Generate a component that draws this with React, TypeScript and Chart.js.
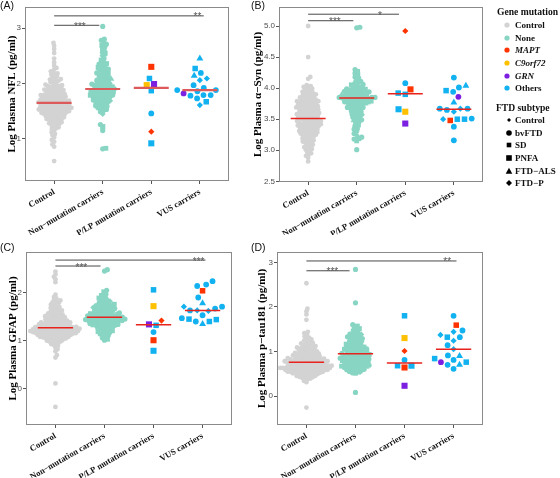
import React, { useEffect, useRef } from 'react';
import { Chart, registerables } from 'chart.js';

Chart.register(...registerables);

// ---------------- data ----------------
const categories = ['Control', 'Non\u2212mutation carriers', 'P/LP mutation carriers', 'VUS carriers'];

// subtype codes: b = bvFTD, s = SD, p = PNFA, a = FTD-ALS, f = FTD-P ; gene codes: o Others, m MAPT, c C9orf72, g GRN
const noneSubtypes =
  'bsbpbfbbbs' + 'bpbbabsbpb' + 'fbsbbbpbsb' + 'bbpbsfbbab' + 'sbpbbsbfbp' +
  'bbsbbpbbbs' + 'fbpsbbabsb' + 'bsbpbbbfbs' + 'pbbbsbpbfb' + 'basbpbsbbb';

const plpGenes = 'mmcgoooo';
const plpSubtypes = 'pfppbssp';

// (A) NFL
const nflControl = [
  0.60, 0.86, 0.90, 0.95, 0.98, 1.03, 1.07, 1.09, 1.12, 1.15, 1.18, 1.19,
  1.21, 1.23, 1.25, 1.26, 1.27, 1.28, 1.29,
  1.30, 1.31, 1.32, 1.33, 1.34, 1.35, 1.36, 1.36, 1.37, 1.38, 1.39, 1.39,
  1.40, 1.41, 1.41, 1.42, 1.43, 1.43, 1.44, 1.45, 1.45, 1.46, 1.46, 1.47, 1.47, 1.48, 1.48, 1.49, 1.49,
  1.50, 1.50, 1.51, 1.51, 1.52, 1.52, 1.53, 1.53, 1.54, 1.54, 1.55, 1.55, 1.55, 1.56, 1.56, 1.57, 1.57, 1.58, 1.58, 1.59, 1.59, 1.59,
  1.60, 1.60, 1.61, 1.61, 1.62, 1.62, 1.63, 1.63, 1.64, 1.64, 1.65, 1.65, 1.65, 1.66, 1.66, 1.67, 1.67, 1.68, 1.68, 1.69, 1.69, 1.69,
  1.70, 1.71, 1.71, 1.72, 1.72, 1.73, 1.74, 1.74, 1.75, 1.75, 1.76, 1.76, 1.77, 1.78, 1.78, 1.79, 1.79, 1.79,
  1.80, 1.81, 1.81, 1.82, 1.83, 1.84, 1.85, 1.85, 1.86, 1.87, 1.88, 1.88, 1.89, 1.89,
  1.90, 1.91, 1.92, 1.93, 1.94, 1.95, 1.95, 1.96, 1.97, 1.98, 1.99,
  2.01, 2.02, 2.04, 2.05, 2.06, 2.07, 2.08, 2.09,
  2.11, 2.13, 2.15, 2.16, 2.18, 2.20, 2.22, 2.25, 2.28, 2.32, 2.38, 2.45, 2.55, 2.62, 2.68, 2.73,
];
const nflNone = [
  0.82, 0.83, 1.15, 1.22, 1.26, 1.45, 1.49,
  1.51, 1.53, 1.55, 1.56, 1.58, 1.59,
  1.60, 1.62, 1.63, 1.65, 1.66, 1.67, 1.68, 1.69,
  1.70, 1.71, 1.72, 1.73, 1.74, 1.75, 1.76, 1.76, 1.77, 1.78, 1.79, 1.79,
  1.80, 1.81, 1.81, 1.82, 1.83, 1.84, 1.85, 1.85, 1.86, 1.87, 1.88, 1.88, 1.89, 1.89,
  1.90, 1.91, 1.92, 1.93, 1.94, 1.94, 1.95, 1.96, 1.97, 1.98, 1.99, 1.99,
  2.00, 2.01, 2.03, 2.04, 2.05, 2.06, 2.07, 2.08, 2.09,
  2.11, 2.12, 2.14, 2.15, 2.17, 2.18, 2.19,
  2.21, 2.23, 2.24, 2.26, 2.27, 2.29,
  2.31, 2.33, 2.35, 2.36, 2.38, 2.42, 2.45, 2.50, 2.53, 2.56, 2.59,
  2.62, 2.66, 2.69, 2.71, 2.74, 2.78, 2.80, 3.03,
];
const nflPlp = [2.30, 1.13, 1.97, 1.99, 1.46, 2.09, 1.87, 0.92];
const nflVus = [2.45, 2.27, 2.19, 2.09, 2.06, 2.14, 1.97, 1.92, 1.86, 1.78, 1.88, 1.79, 1.88, 1.79, 1.73, 1.67, 1.61, 1.82];
const nflVusSubtypes = 'asbffabbbbbbbbbsfb';
const nflVusGenes = 'ooooooooooooooooog';
const nflMedians = [1.65, 1.9, 1.92, 1.88];
const nflYTicks = [1, 2, 3];
const nflSig = [
  { from: 0, to: 0.93, y: 3.05, label: '***', at: 0.53 },
  { from: 0, to: 3.08, y: 3.22, label: '**', at: 2.95 },
];

// (B) alpha-Syn
const synControl = [
  2.82, 2.88, 2.91, 2.93, 2.95, 2.97, 2.99,
  3.01, 3.02, 3.04, 3.05, 3.07, 3.08, 3.09,
  3.11, 3.12, 3.13, 3.14, 3.15, 3.16, 3.17, 3.18, 3.19,
  3.21, 3.22, 3.22, 3.23, 3.24, 3.25, 3.26, 3.26, 3.27, 3.28, 3.29, 3.29,
  3.30, 3.31, 3.31, 3.32, 3.33, 3.34, 3.34, 3.35, 3.36, 3.36, 3.37, 3.38, 3.38, 3.39, 3.39,
  3.40, 3.40, 3.41, 3.41, 3.42, 3.42, 3.43, 3.44, 3.44, 3.45, 3.45, 3.46, 3.46, 3.47, 3.47, 3.48, 3.48, 3.49,
  3.50, 3.50, 3.51, 3.51, 3.52, 3.52, 3.53, 3.54, 3.54, 3.55, 3.55, 3.56, 3.56, 3.57, 3.58, 3.58, 3.59, 3.59,
  3.60, 3.60, 3.61, 3.62, 3.62, 3.63, 3.64, 3.64, 3.65, 3.66, 3.66, 3.67, 3.67, 3.68, 3.69, 3.69, 3.69,
  3.70, 3.71, 3.71, 3.72, 3.73, 3.73, 3.74, 3.75, 3.75, 3.76, 3.77, 3.77, 3.78, 3.78, 3.79, 3.79,
  3.80, 3.80, 3.81, 3.82, 3.82, 3.83, 3.84, 3.85, 3.85, 3.86, 3.87, 3.88, 3.89, 3.89,
  3.90, 3.91, 3.92, 3.93, 3.94, 3.95, 3.96, 3.98, 3.99,
  4.01, 4.02, 4.03, 4.05, 4.15, 4.18, 4.50, 5.00,
];
const synNone = [
  3.01, 3.15, 3.18, 3.19, 3.21, 3.24, 3.27,
  3.31, 3.34, 3.36, 3.39, 3.41, 3.44, 3.46, 3.48, 3.49,
  3.51, 3.53, 3.54, 3.56, 3.57, 3.58, 3.59,
  3.61, 3.62, 3.63, 3.65, 3.66, 3.67, 3.68, 3.69, 3.69,
  3.70, 3.71, 3.72, 3.73, 3.74, 3.75, 3.75, 3.76, 3.77, 3.77, 3.78, 3.78, 3.79, 3.79,
  3.80, 3.81, 3.81, 3.82, 3.82, 3.83, 3.83, 3.84, 3.84, 3.85, 3.85, 3.85, 3.85, 3.86, 3.86, 3.87, 3.87, 3.88, 3.88, 3.89, 3.89,
  3.90, 3.91, 3.91, 3.92, 3.92, 3.93, 3.94, 3.94, 3.95, 3.95, 3.96, 3.97, 3.97, 3.98, 3.99, 3.99,
  4.01, 4.02, 4.04, 4.05, 4.06, 4.08, 4.09,
  4.11, 4.13, 4.15, 4.18, 4.21, 4.24, 4.27, 4.30, 4.97, 4.98,
];
const synPlp = [3.98, 4.92, 3.62, 3.43, 4.08, 3.90, 3.92, 3.66];
const synVus = [4.17, 3.96, 4.04, 4.01, 3.94, 3.86, 3.77, 3.67, 3.67, 3.65, 3.67, 3.62, 3.50, 3.50, 3.50, 3.51, 3.48, 3.38, 3.16];
const synVusSubtypes = 'bsabbbafbbbfssfbsbb';
const synVusGenes = 'ooooogoooooooooomoo';
const synMedians = [3.51, 3.84, 3.91, 3.66];
const synYTicks = [2.5, 3.0, 3.5, 4.0, 4.5, 5.0];
const synSig = [
  { from: 0, to: 0.93, y: 5.085, label: '***', at: 0.55 },
  { from: 0, to: 1.87, y: 5.19, label: '*', at: 1.48 },
];

// (C) GFAP
const gfapControl = [
  -0.38, 0.11, 0.65, 0.70, 0.78, 0.82, 0.86, 0.89,
  0.91, 0.93, 0.95, 0.96, 0.97, 0.98, 0.99,
  1.00, 1.01, 1.02, 1.03, 1.03, 1.04, 1.05, 1.05, 1.06, 1.07, 1.07, 1.08, 1.08, 1.09, 1.09,
  1.10, 1.10, 1.11, 1.11, 1.12, 1.12, 1.13, 1.13, 1.13, 1.14, 1.14, 1.15, 1.15, 1.15, 1.16, 1.16, 1.16, 1.17, 1.17, 1.17, 1.18, 1.18, 1.18, 1.19, 1.19, 1.19,
  1.20, 1.20, 1.20, 1.21, 1.21, 1.21, 1.22, 1.22, 1.22, 1.23, 1.23, 1.23, 1.24, 1.24, 1.24, 1.25, 1.25, 1.25, 1.26, 1.26, 1.26, 1.27, 1.27, 1.27, 1.28, 1.28, 1.28, 1.29, 1.29, 1.29,
  1.30, 1.30, 1.31, 1.31, 1.32, 1.32, 1.33, 1.33, 1.34, 1.34, 1.35, 1.35, 1.36, 1.36, 1.37, 1.37, 1.38, 1.38, 1.39, 1.39,
  1.40, 1.41, 1.41, 1.42, 1.43, 1.43, 1.44, 1.45, 1.46, 1.46, 1.47, 1.48, 1.49, 1.49,
  1.50, 1.51, 1.52, 1.53, 1.54, 1.55, 1.56, 1.57, 1.58, 1.59,
  1.60, 1.62, 1.63, 1.65, 1.66, 1.68, 1.69,
  1.70, 1.72, 1.74, 1.75, 1.77, 1.79, 1.80, 1.82, 1.84, 1.85, 1.88, 1.91, 1.96,
  2.22, 2.28, 2.33, 2.38, 2.44,
];
const gfapNone = [
  1.01, 1.03, 1.06, 1.08, 1.11, 1.13, 1.14, 1.16, 1.17, 1.19,
  1.20, 1.21, 1.23, 1.24, 1.25, 1.26, 1.28, 1.29,
  1.30, 1.31, 1.31, 1.32, 1.33, 1.34, 1.34, 1.35, 1.36, 1.36, 1.37, 1.38, 1.38, 1.39,
  1.40, 1.40, 1.41, 1.41, 1.42, 1.42, 1.43, 1.43, 1.44, 1.44, 1.45, 1.45, 1.46, 1.46, 1.47, 1.47, 1.48, 1.48, 1.49, 1.49,
  1.50, 1.50, 1.51, 1.52, 1.52, 1.53, 1.54, 1.54, 1.55, 1.56, 1.56, 1.57, 1.58, 1.58, 1.59,
  1.60, 1.61, 1.62, 1.63, 1.64, 1.65, 1.66, 1.67, 1.67, 1.68, 1.69,
  1.70, 1.71, 1.72, 1.73, 1.74, 1.75, 1.76, 1.78, 1.79,
  1.80, 1.82, 1.83, 1.85, 1.87, 1.89, 1.91, 1.94, 1.97, 2.02, 2.05, 2.45, 2.48,
];
const gfapPlp = [1.01, 1.42, 1.72, 1.34, 1.18, 2.06, 1.32, 0.79];
const gfapVus = [2.24, 2.17, 2.14, 2.04, 1.90, 1.78, 1.71, 1.71, 1.63, 1.63, 1.62, 1.67, 1.45, 1.53, 1.40, 1.35, 1.44, 1.40, 1.47];
const gfapVusSubtypes = 'bbbsbafbfbfbsbsasbb';
const gfapVusGenes = 'ooomooooooooooooooog';
const gfapMedians = [1.27, 1.49, 1.33, 1.63];
const gfapYTicks = [0, 1, 2];
const gfapSig = [
  { from: 0, to: 0.92, y: 2.556, label: '***', at: 0.53 },
  { from: 0, to: 3.06, y: 2.68, label: '***', at: 2.92 },
];

// (D) p-tau181
const ptauControl = [
  -0.26, 0.31, 0.34, 0.37, 0.39,
  0.40, 0.41, 0.42, 0.43, 0.44, 0.45, 0.45, 0.46, 0.47, 0.48, 0.49, 0.49,
  0.50, 0.50, 0.51, 0.51, 0.52, 0.52, 0.53, 0.53, 0.54, 0.54, 0.55, 0.55, 0.55, 0.56, 0.56, 0.57, 0.57, 0.58, 0.58, 0.59, 0.59, 0.59,
  0.60, 0.60, 0.60, 0.61, 0.61, 0.61, 0.62, 0.62, 0.62, 0.63, 0.63, 0.63, 0.64, 0.64, 0.65, 0.65, 0.65, 0.66, 0.66, 0.66, 0.67, 0.67, 0.67, 0.68, 0.68, 0.69, 0.69, 0.69,
  0.70, 0.70, 0.71, 0.71, 0.72, 0.72, 0.73, 0.73, 0.74, 0.74, 0.75, 0.75, 0.75, 0.76, 0.76, 0.77, 0.77, 0.78, 0.78, 0.79, 0.79, 0.79,
  0.80, 0.80, 0.81, 0.81, 0.82, 0.82, 0.83, 0.84, 0.84, 0.85, 0.85, 0.86, 0.86, 0.87, 0.88, 0.88, 0.89, 0.89,
  0.90, 0.91, 0.91, 0.92, 0.93, 0.93, 0.94, 0.95, 0.95, 0.96, 0.97, 0.97, 0.98, 0.99,
  1.00, 1.01, 1.02, 1.03, 1.04, 1.05, 1.06, 1.07, 1.08, 1.08, 1.09,
  1.10, 1.11, 1.12, 1.14, 1.15, 1.16, 1.18, 1.19,
  1.21, 1.23, 1.25, 1.27, 1.29, 1.31, 1.34, 1.38, 1.41, 1.44,
  1.71, 1.83, 1.90, 1.96, 2.53,
];
const ptauNone = [
  0.08, 0.51, 0.52, 0.54, 0.55, 0.56, 0.58, 0.59,
  0.60, 0.61, 0.62, 0.63, 0.64, 0.65, 0.65, 0.66, 0.67, 0.68, 0.69, 0.69,
  0.70, 0.71, 0.72, 0.73, 0.74, 0.75, 0.75, 0.76, 0.77, 0.78, 0.79, 0.79,
  0.80, 0.81, 0.82, 0.82, 0.83, 0.84, 0.85, 0.85, 0.86, 0.87, 0.88, 0.89, 0.89,
  0.90, 0.91, 0.92, 0.93, 0.93, 0.94, 0.95, 0.96, 0.96, 0.97, 0.98, 0.99,
  1.00, 1.01, 1.02, 1.03, 1.04, 1.05, 1.05, 1.06, 1.07, 1.08, 1.09,
  1.10, 1.12, 1.13, 1.14, 1.15, 1.16, 1.18, 1.19,
  1.20, 1.22, 1.23, 1.25, 1.26, 1.28, 1.29,
  1.30, 1.32, 1.33, 1.35, 1.36, 1.38, 1.39,
  1.41, 1.43, 1.46, 1.48, 1.51, 1.54, 1.57, 1.60, 2.09, 2.84,
];
const ptauPlp = [0.64, 1.01, 1.30, 0.23, 0.81, 1.80, 0.68, 0.68];
const ptauVus = [1.80, 1.59, 1.47, 1.44, 1.37, 1.32, 1.32, 1.24, 1.14, 1.05, 0.90, 0.91, 0.84, 0.76, 0.81, 0.70, 0.76, 0.70, 0.61];
const ptauVusSubtypes = 'bsbffsbfbfabssbabbb';
const ptauVusGenes = 'omoooooooooooooogoo';
const ptauMedians = [0.76, 0.95, 0.74, 1.05];
const ptauYTicks = [0, 1, 2, 3];
const ptauSig = [
  { from: 0, to: 0.88, y: 2.81, label: '***', at: 0.53 },
  { from: 0, to: 3.06, y: 3.03, label: '**', at: 2.87 },
];

// ---------------- styles ----------------
const SERIF = '"Liberation Serif", "Times New Roman", serif';
const SANS = '"Liberation Sans", Arial, sans-serif';
const COL: Record<string, string> = {
  control: '#D3D3D3',
  none: '#88D5C3',
  m: '#FF3300',
  c: '#FFC000',
  g: '#7B1FE0',
  o: '#12B2F0',
};
const STYLE: Record<string, string> = { b: 'circle', s: 'rect', p: 'rect', a: 'triangle', f: 'rectRot' };
const R_NONE: Record<string, number> = { b: 2.6, s: 3.4, p: 3.7, a: 3.6, f: 3.0 };
const R_BIG: Record<string, number> = { b: 2.9, s: 3.9, p: 4.3, a: 4.0, f: 3.1 };

type Sig = { from: number; to: number; y: number; label: string; at: number };
type PanelDef = {
  tag: string; title: string;
  control: number[]; none: number[]; plp: number[]; vus: number[];
  vusSub: string; vusGene: string; medians: number[]; yTicks: number[]; dec: number;
  sig: Sig[]; yMin: number; yMax: number;
  left: number; top: number; w: number; h: number;
  padTop: number; padRight: number; yW: number; xH: number; titlePad: number;
  medColor: string; medWidth: number;
};

const panels: PanelDef[] = [
  { tag: '(A)', title: 'Log Plasma NFL (pg/ml)', control: nflControl, none: nflNone, plp: nflPlp, vus: nflVus,
    vusSub: nflVusSubtypes, vusGene: nflVusGenes, medians: nflMedians, yTicks: nflYTicks, dec: 0, sig: nflSig,
    yMin: 0.24, yMax: 3.38, left: 0, top: 0, w: 240, h: 235, padTop: 7, padRight: 11, yW: 25, xH: 54, titlePad: 5.4,
    medColor: '#DD5A5A', medWidth: 2.2 },
  { tag: '(B)', title: 'Log Plasma \u03b1\u2212Syn (pg/ml)', control: synControl, none: synNone, plp: synPlp, vus: synVus,
    vusSub: synVusSubtypes, vusGene: synVusGenes, medians: synMedians, yTicks: synYTicks, dec: 1, sig: synSig,
    yMin: 2.489, yMax: 5.306, left: 250, top: 0, w: 240, h: 235, padTop: 7, padRight: 7, yW: 29, xH: 53, titlePad: 1.4,
    medColor: '#E8231E', medWidth: 1.5 },
  { tag: '(C)', title: 'Log Plasma GFAP (pg/ml)', control: gfapControl, none: gfapNone, plp: gfapPlp, vus: gfapVus,
    vusSub: gfapVusSubtypes, vusGene: gfapVusGenes, medians: gfapMedians, yTicks: gfapYTicks, dec: 0, sig: gfapSig,
    yMin: -0.756, yMax: 2.848, left: 0, top: 235, w: 240, h: 243, padTop: 17, padRight: 8, yW: 26, xH: 53, titlePad: 6.1,
    medColor: '#E8231E', medWidth: 1.5 },
  { tag: '(D)', title: 'Log Plasma p\u2212tau181 (pg/ml)', control: ptauControl, none: ptauNone, plp: ptauPlp, vus: ptauVus,
    vusSub: ptauVusSubtypes, vusGene: ptauVusGenes, medians: ptauMedians, yTicks: ptauYTicks, dec: 0, sig: ptauSig,
    yMin: -0.65, yMax: 3.231, left: 250, top: 235, w: 240, h: 243, padTop: 17, padRight: 7, yW: 27, xH: 53, titlePad: 5.7,
    medColor: '#E8231E', medWidth: 1.5 },
];

const GAP_CONTROL = 2.85;
const GAP_NONE = 3.2;
const GAP_SMALL = 7.2;

// beeswarm layout in pixel space: returns horizontal pixel offsets
function swarm(ys: number[], gap: number): number[] {
  const order = ys.map((_, i) => i).sort((a, b) => ys[b] - ys[a]);
  const placed: { x: number; y: number }[] = [];
  const out = new Array(ys.length).fill(0);
  let flip = 1;
  for (const i of order) {
    const y = ys[i];
    const near = placed.filter((p) => Math.abs(p.y - y) < gap);
    const cands = [0];
    for (const p of near) {
      const dx = Math.sqrt(gap * gap - (p.y - y) * (p.y - y));
      cands.push(p.x + dx, p.x - dx);
    }
    cands.sort((a, b) => Math.abs(a) - Math.abs(b) || (a - b) * flip);
    let chosen = 0;
    for (const c of cands) {
      if (near.every((p) => (c - p.x) * (c - p.x) + (p.y - y) * (p.y - y) >= gap * gap - 1e-6)) {
        chosen = c;
        break;
      }
    }
    flip = -flip;
    placed.push({ x: chosen, y });
    out[i] = chosen;
  }
  return out;
}

const panelPlugin = {
  id: 'panelDeco',
  beforeDatasetsDraw(chart: any) {
    const { ctx, chartArea: a } = chart;
    ctx.save();
    ctx.strokeStyle = '#8A8A8A';
    ctx.lineWidth = 1;
    ctx.strokeRect(Math.round(a.left) + 0.5, Math.round(a.top) + 0.5, Math.round(a.right - a.left) - 1, Math.round(a.bottom - a.top) - 1);
    ctx.restore();
  },
  afterDatasetsDraw(chart: any) {
    const sig: Sig[] = chart.options.plugins.panelDeco.sig;
    const { ctx, scales } = chart;
    ctx.save();
    ctx.fillStyle = '#555';
    ctx.font = `10px ${SANS}`;
    ctx.textAlign = 'center';
    ctx.textBaseline = 'alphabetic';
    for (const s of sig) {
      ctx.fillText(s.label, scales.x.getPixelForValue(s.at), scales.y.getPixelForValue(s.y) + 4.5);
    }
    ctx.restore();
  },
};

function Panel({ p }: { p: PanelDef }) {
  const ref = useRef<HTMLCanvasElement>(null);
  useEffect(() => {
    const noneSub = p.none.map((_, i) => noneSubtypes[i % noneSubtypes.length]);
    const datasets: any[] = [];
    p.sig.forEach((s) =>
      datasets.push({ type: 'line', data: [{ x: s.from, y: s.y }, { x: s.to, y: s.y }], borderColor: '#4A4A4A',
        borderWidth: 1, pointRadius: 0, fill: false, order: 1 })
    );
    p.medians.forEach((m, i) =>
      datasets.push({ type: 'line', data: [{ x: i - 0.36, y: m }, { x: i + 0.36, y: m }], borderColor: p.medColor,
        borderWidth: p.medWidth, pointRadius: 0, fill: false, order: 2 })
    );
    const iVus = datasets.length;
    datasets.push({ type: 'scatter', data: p.vus.map((v) => ({ x: 3, y: v })),
      backgroundColor: p.vus.map((_, i) => COL[p.vusGene[i]]),
      pointStyle: p.vus.map((_, i) => STYLE[p.vusSub[i]]),
      pointRadius: p.vus.map((_, i) => R_BIG[p.vusSub[i]]), pointBorderWidth: 0, order: 3 });
    const iPlp = datasets.length;
    datasets.push({ type: 'scatter', data: p.plp.map((v) => ({ x: 2, y: v })),
      backgroundColor: p.plp.map((_, i) => COL[plpGenes[i]]),
      pointStyle: p.plp.map((_, i) => STYLE[plpSubtypes[i]]),
      pointRadius: p.plp.map((_, i) => R_BIG[plpSubtypes[i]]), pointBorderWidth: 0, order: 4 });
    const iNone = datasets.length;
    datasets.push({ type: 'scatter', data: p.none.map((v) => ({ x: 1, y: v })), backgroundColor: COL.none,
      pointStyle: noneSub.map((c) => STYLE[c]), pointRadius: noneSub.map((c) => R_NONE[c]), pointBorderWidth: 0, order: 5 });
    const iCtrl = datasets.length;
    datasets.push({ type: 'scatter', data: p.control.map((v) => ({ x: 0, y: v })), backgroundColor: COL.control,
      pointStyle: 'circle', pointRadius: 2.4, pointBorderWidth: 0, order: 6 });

    const chart = new Chart(ref.current as HTMLCanvasElement, {
      type: 'scatter',
      data: { datasets },
      plugins: [panelPlugin],
      options: {
        animation: false,
        responsive: false,
        events: [],
        layout: { autoPadding: false, padding: { left: 0, top: p.padTop, right: p.padRight, bottom: 0 } },
        plugins: { legend: { display: false }, tooltip: { enabled: false }, panelDeco: { sig: p.sig } } as any,
        scales: {
          x: {
            type: 'linear', min: -0.6, max: 3.6,
            afterBuildTicks: (s: any) => { s.ticks = categories.map((_, i) => ({ value: i })); },
            afterFit: (s: any) => { s.height = p.xH; s.paddingLeft = 0; s.paddingRight = 0; },
            ticks: { autoSkip: false, minRotation: 30, maxRotation: 30, padding: 3, color: '#111',
              font: { family: SERIF, weight: 'bold', size: 8.6 }, callback: (v: any) => categories[v] ?? '' },
            grid: { drawOnChartArea: false, drawTicks: true, tickLength: 3, color: '#555', tickColor: '#555' },
            border: { display: false },
          },
          y: {
            type: 'linear', min: p.yMin, max: p.yMax,
            afterBuildTicks: (s: any) => { s.ticks = p.yTicks.map((v) => ({ value: v })); },
            afterFit: (s: any) => { s.width = p.yW; s.paddingTop = 0; s.paddingBottom = 0; },
            ticks: { padding: 1, color: '#4D4D4D', font: { family: SANS, size: 8 },
              callback: (v: any) => Number(v).toFixed(p.dec) },
            grid: { drawOnChartArea: false, drawTicks: true, tickLength: 3, color: '#555', tickColor: '#555' },
            border: { display: false },
            title: { display: true, text: p.title, color: '#000', padding: { top: p.titlePad, bottom: 0 },
              font: { family: SERIF, weight: 'bold', size: 11 } },
          },
        },
      } as any,
    });

    const xs: any = chart.scales.x;
    const ysc: any = chart.scales.y;
    const ux = xs.getPixelForValue(1) - xs.getPixelForValue(0);
    const groups = [
      { idx: iCtrl, vals: p.control, cat: 0, gap: GAP_CONTROL },
      { idx: iNone, vals: p.none, cat: 1, gap: GAP_NONE },
      { idx: iPlp, vals: p.plp, cat: 2, gap: GAP_SMALL },
      { idx: iVus, vals: p.vus, cat: 3, gap: GAP_SMALL },
    ];
    for (const g of groups) {
      const off = swarm(g.vals.map((v) => ysc.getPixelForValue(v)), g.gap);
      chart.data.datasets[g.idx].data = g.vals.map((v, i) => ({ x: g.cat + off[i] / ux, y: v }));
    }
    chart.update('none');
    return () => chart.destroy();
  }, [p]);

  return (
    <>
      <canvas ref={ref} width={p.w} height={p.h}
        style={{ position: 'absolute', left: p.left, top: p.top, width: p.w, height: p.h }} />
      <div style={{ position: 'absolute', left: p.left === 0 ? 0 : 251, top: p.top === 0 ? -1 : 241,
        font: `10.5px ${SANS}`, color: '#111', lineHeight: '13px' }}>{p.tag}</div>
    </>
  );
}

const geneLegend = [
  { label: 'Control', color: COL.control, italic: false },
  { label: 'None', color: COL.none, italic: false },
  { label: 'MAPT', color: COL.m, italic: true },
  { label: 'C9orf72', color: COL.c, italic: true },
  { label: 'GRN', color: COL.g, italic: true },
  { label: 'Others', color: COL.o, italic: false },
];
const subtypeLegend = [
  { label: 'Control', shape: 'dot' },
  { label: 'bvFTD', shape: 'circle' },
  { label: 'SD', shape: 'squareS' },
  { label: 'PNFA', shape: 'square' },
  { label: 'FTD\u2212ALS', shape: 'triangle' },
  { label: 'FTD\u2212P', shape: 'diamond' },
];

function Marker({ shape, color }: { shape: string; color: string }) {
  let el: any = null;
  if (shape === 'dot') el = <polygon points="5,3 7,5 5,7 3,5" fill={color} />;
  else if (shape === 'circle') el = <circle cx={5} cy={5} r={2.8} fill={color} />;
  else if (shape === 'squareS') el = <rect x={2.7} y={2.7} width={4.6} height={4.6} fill={color} />;
  else if (shape === 'square') el = <rect x={2.2} y={2.2} width={5.6} height={5.6} fill={color} />;
  else if (shape === 'triangle') el = <polygon points="5,1.8 8.3,7.8 1.7,7.8" fill={color} />;
  else if (shape === 'diamond') el = <polygon points="5,2 8,5 5,8 2,5" fill={color} />;
  else el = <circle cx={5} cy={5} r={2.6} fill={color} />;
  return <svg width={10} height={10} style={{ display: 'block' }}>{el}</svg>;
}

function Legend() {
  const txt = { position: 'absolute' as const, font: `bold 9px ${SERIF}`, lineHeight: '12px', color: '#111', whiteSpace: 'nowrap' as const };
  const head = { ...txt, font: `bold 9.6px ${SERIF}` };
  return (
    <>
      <div style={{ ...head, left: 497, top: 5.7 }}>Gene mutation</div>
      {geneLegend.map((g, i) => {
        const cy = 25 + i * 12.66;
        return (
          <React.Fragment key={'g' + i}>
            <div style={{ position: 'absolute', left: 502, top: cy - 5 }}><Marker shape="gene" color={g.color} /></div>
            <div style={{ ...txt, left: 515, top: cy - 6, fontStyle: g.italic ? 'italic' : 'normal' }}>{g.label}</div>
          </React.Fragment>
        );
      })}
      <div style={{ ...head, left: 496, top: 102.3 }}>FTD subtype</div>
      {subtypeLegend.map((s, i) => {
        const cy = 120 + i * 12.66;
        return (
          <React.Fragment key={'s' + i}>
            <div style={{ position: 'absolute', left: 504, top: cy - 5 }}><Marker shape={s.shape} color="#000" /></div>
            <div style={{ ...txt, left: 515, top: cy - 6 }}>{s.label}</div>
          </React.Fragment>
        );
      })}
    </>
  );
}

export default function App() {
  return (
    <div style={{ position: 'absolute', left: 0, top: 0, width: 560, height: 478, background: '#fff', overflow: 'hidden' }}>
      {panels.map((p) => <Panel key={p.tag} p={p} />)}
      <Legend />
    </div>
  );
}
